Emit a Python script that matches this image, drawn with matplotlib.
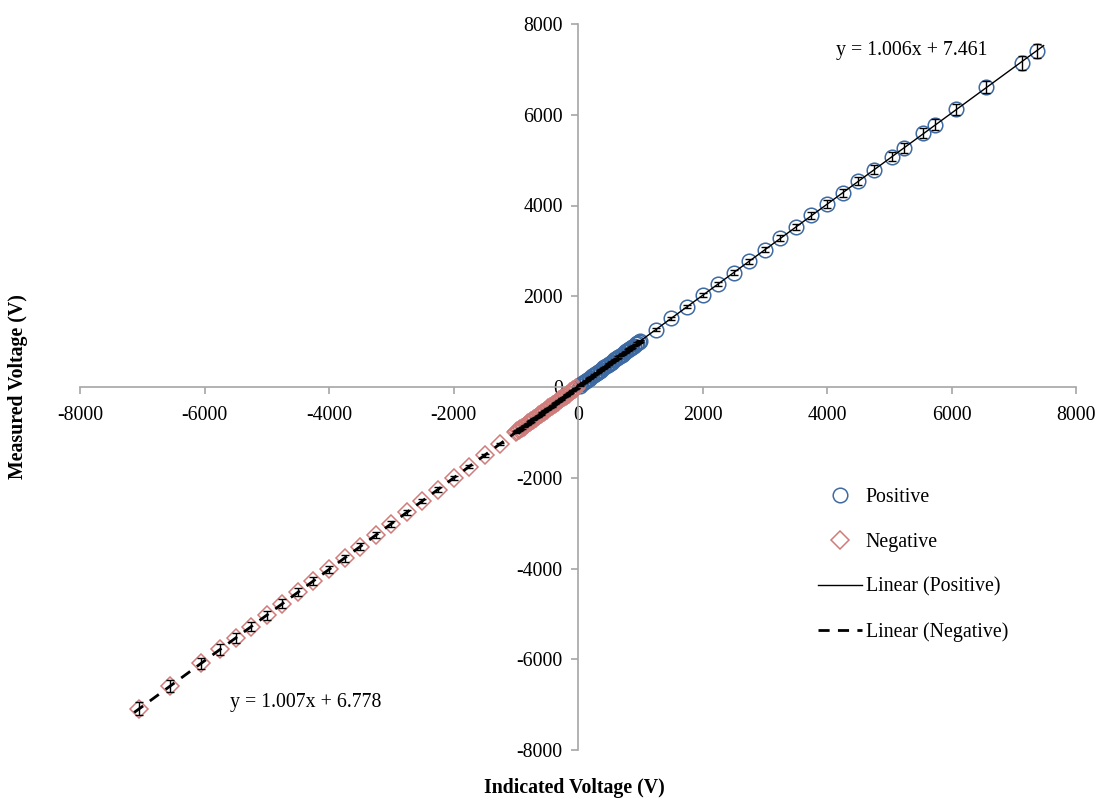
import numpy as np
import matplotlib
matplotlib.use("Agg")
import matplotlib.pyplot as plt
from matplotlib.lines import Line2D

# ---------------- data ----------------
pos_x = [25, 50, 75, 100, 125, 150, 175, 200, 225, 250, 275, 300, 325, 350, 375,
         400, 425, 450, 475, 500, 525, 550, 575, 600, 625, 650, 675, 700, 725, 750,
         775, 800, 825, 850, 875, 900, 925, 950, 975, 1000,
         1250, 1500, 1750, 2000, 2250, 2500, 2750, 3000,
         3250, 3500, 3750, 4000, 4250, 4500, 4750, 5040, 5230, 5550, 5740, 6080,
         6560, 7130, 7380]
pos_y = [33, 58, 83, 108, 133, 158, 184, 209, 234, 259, 284, 309, 334, 360, 385,
         410, 435, 460, 485, 511, 536, 561, 586, 611, 636, 661, 687, 712, 737, 762,
         787, 812, 837, 863, 888, 913, 938, 963, 988, 1014,
         1265, 1517, 1768, 2020, 2271, 2523, 2774, 3026,
         3277, 3529, 3780, 4032, 4283, 4535, 4786, 5078, 5269, 5591, 5782, 6124,
         6607, 7140, 7400]
pos_err = [1, 1, 2, 2, 3, 3, 4, 4, 5, 5, 6, 6, 7, 7, 8,
           8, 9, 9, 10, 10, 11, 11, 12, 12, 13, 13, 14, 14, 15, 15,
           16, 16, 17, 17, 18, 18, 19, 19, 20, 21,
           26, 31, 36, 41, 46, 51, 56, 61,
           66, 71, 76, 81, 86, 91, 96, 102, 106, 112, 116, 123,
           132, 144, 149]

neg_x = [-25, -50, -75, -100, -125, -150, -175, -200, -225, -250, -275, -300, -325,
         -350, -375, -400, -425, -450, -475, -500, -525, -550, -575, -600, -625,
         -650, -675, -700, -725, -750, -775, -800, -825, -850, -875, -900, -925,
         -950, -975, -1000, -1250, -1500, -1750, -2000,
         -2250, -2500, -2750, -3000, -3250, -3500, -3750, -4000, -4250, -4500,
         -4750, -5000, -5250, -5500, -5750, -6050, -6550, -7050]
neg_y = [-18, -44, -69, -94, -119, -144, -169, -195, -220, -245, -270, -295, -321,
         -346, -371, -396, -421, -446, -472, -497, -522, -547, -572, -597, -623,
         -648, -673, -698, -723, -749, -774, -799, -824, -849, -874, -900, -925,
         -950, -975, -1000, -1252, -1504, -1756, -2007,
         -2259, -2511, -2763, -3014, -3266, -3518, -3770, -4021, -4273, -4525,
         -4777, -5028, -5280, -5532, -5784, -6086, -6589, -7093]
neg_err = [1, 1, 2, 2, 3, 3, 4, 4, 5, 5, 6, 6, 7, 7, 8, 8, 9, 9, 10, 10, 11, 11,
           12, 12, 13, 13, 14, 14, 15, 15, 16, 16, 17, 17, 18, 18, 19, 19, 20, 21,
           26, 31, 36, 41, 46, 51, 56, 61, 66, 71, 76, 81, 86, 91, 96, 101, 106,
           111, 116, 122, 132, 142]

x_ticks = [-8000, -6000, -4000, -2000, 0, 2000, 4000, 6000, 8000]
y_ticks = [-8000, -6000, -4000, -2000, 0, 2000, 4000, 6000, 8000]

pos_eq = "y = 1.006x + 7.461"
neg_eq = "y = 1.007x + 6.778"

# ---------------- styling ----------------
plt.rcParams['font.family'] = ['Liberation Serif', 'DejaVu Serif']
plt.rcParams['axes.unicode_minus'] = False
FS = 14.3
blue = '#3E6AA3'
red = '#CF7C7A'
axis_gray = '#A6A6A6'

fig = plt.figure(figsize=(10.97, 8.0), dpi=100)
ax = fig.add_axes([80 / 1097, 1 - 750 / 800, (1076 - 80) / 1097, (750 - 24) / 800])

# markers
ax.plot(pos_x, pos_y, linestyle='none', marker='o', markersize=10.5,
        markerfacecolor='none', markeredgecolor=blue, markeredgewidth=1.1, zorder=3)
ax.plot(neg_x, neg_y, linestyle='none', marker='D', markersize=9.0,
        markerfacecolor='none', markeredgecolor=red, markeredgewidth=1.1, zorder=3)

# error bars
ax.errorbar(pos_x, pos_y, yerr=pos_err, fmt='none', ecolor='black',
            elinewidth=1.0, capsize=3, capthick=1.0, zorder=4)
ax.errorbar(neg_x, neg_y, yerr=neg_err, fmt='none', ecolor='black',
            elinewidth=1.0, capsize=3, capthick=1.0, zorder=4)

# trendlines (least squares fits of the data)
pp = np.polyfit(pos_x, pos_y, 1)
pn = np.polyfit(neg_x, neg_y, 1)
xp = np.array([0, max(pos_x) + 100])
xn = np.array([min(neg_x) - 80, 0])
ax.plot(xp, np.polyval(pp, xp), color='black', linewidth=1.0, zorder=5)
ax.plot(xn, np.polyval(pn, xn), color='black', linewidth=2.0,
        linestyle=(0, (4, 3)), zorder=5)

# axes through origin
ax.set_xlim(-8000, 8000)
ax.set_ylim(-8000, 8000)
ax.spines['left'].set_position(('data', 0))
ax.spines['bottom'].set_position(('data', 0))
ax.spines['top'].set_visible(False)
ax.spines['right'].set_visible(False)
for s in ('left', 'bottom'):
    ax.spines[s].set_color(axis_gray)
    ax.spines[s].set_linewidth(1.2)
ax.set_xticks(x_ticks)
ax.set_yticks(y_ticks)
ax.tick_params(axis='both', direction='out', length=5, width=1.2, color=axis_gray,
               labelsize=FS, labelcolor='black', pad=6)
ax.tick_params(axis='x', pad=9)

# axis titles
fig.text(18 / 1097, 1 - 387 / 800, 'Measured Voltage (V)', rotation=90,
         ha='center', va='center', fontsize=FS, fontweight='bold')
fig.text(574 / 1097, 1 - 788 / 800, 'Indicated Voltage (V)',
         ha='center', va='center', fontsize=FS, fontweight='bold')

# equations
fig.text(836 / 1097, 1 - 50 / 800, pos_eq, ha='left', va='center', fontsize=FS)
fig.text(230 / 1097, 1 - 703 / 800, neg_eq, ha='left', va='center', fontsize=FS)

# legend
handles = [
    Line2D([], [], linestyle='none', marker='o', markersize=10.5,
           markerfacecolor='none', markeredgecolor=blue, markeredgewidth=1.1),
    Line2D([], [], linestyle='none', marker='D', markersize=9.0,
           markerfacecolor='none', markeredgecolor=red, markeredgewidth=1.1),
    Line2D([], [], color='black', linewidth=1.0),
    Line2D([], [], color='black', linewidth=2.0, linestyle=(0, (4, 3))),
]
labels = ['Positive', 'Negative', 'Linear (Positive)', 'Linear (Negative)']
fig.legend(handles, labels, loc='upper left',
           bbox_to_anchor=(800 / 1097, 1 - 470 / 800), frameon=False,
           fontsize=FS, labelspacing=1.3, handlelength=2.2, handletextpad=0.2)

fig.savefig('out.png', dpi=100)
